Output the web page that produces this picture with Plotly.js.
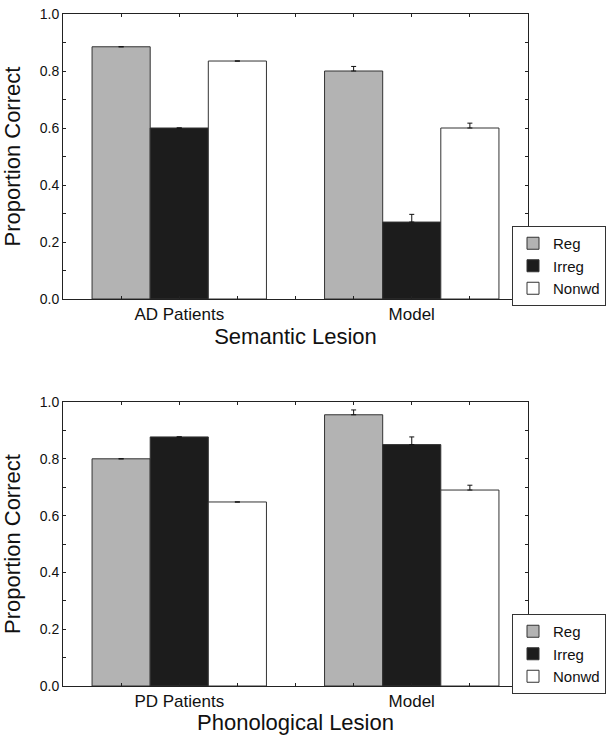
<!DOCTYPE html>
<html>
<head>
<meta charset="utf-8">
<script src="https://cdn.plot.ly/plotly-3.0.1.min.js"></script>
<style>html,body{margin:0;padding:0;background:#fff;}#chart{width:609px;height:735px;}</style>
</head>
<body>
<div id="chart"></div>
<script>
// ---- Data ----
const seriesNames = ['Reg', 'Irreg', 'Nonwd'];
const seriesColors = ['#b3b3b3', '#1c1c1c', '#ffffff'];

// Top panel: Semantic Lesion
const groupsTop = ['AD Patients', 'Model'];
const regTop    = [0.885, 0.80];
const irregTop  = [0.60, 0.27];
const nonwdTop  = [0.835, 0.60];
const regTopErr   = [0, 0.016];
const irregTopErr = [0, 0.027];
const nonwdTopErr = [0, 0.017];

// Bottom panel: Phonological Lesion
const groupsBot = ['PD Patients', 'Model'];
const regBot    = [0.80, 0.955];
const irregBot  = [0.877, 0.85];
const nonwdBot  = [0.648, 0.69];
const regBotErr   = [0, 0.017];
const irregBotErr = [0, 0.027];
const nonwdBotErr = [0, 0.017];

const yTickVals = [0, 0.1, 0.2, 0.3, 0.4, 0.5, 0.6, 0.7, 0.8, 0.9, 1.0];
const yTickText = ['0.0', '', '0.2', '', '0.4', '', '0.6', '', '0.8', '', '1.0'];

// ---- Build ----
const FONT = 'Liberation Sans, Arial, Helvetica, sans-serif';
const nSeries = seriesNames.length;
const slotsPerGroup = nSeries + 1;

function pos(gi, si) { return gi * slotsPerGroup + si + 1; }

function makeTraces(groups, values, errs, xa, ya, legendId) {
  return values.map((vals, si) => ({
    type: 'bar',
    name: seriesNames[si],
    x: groups.map((g, gi) => pos(gi, si)),
    y: vals,
    width: 1,
    xaxis: xa, yaxis: ya,
    legend: legendId,
    marker: { color: seriesColors[si], line: { color: '#333', width: 1 } },
    error_y: { type: 'data', symmetric: false, array: errs[si], arrayminus: groups.map(() => 0),
               color: '#111', thickness: 1, width: 2.5 },
    hoverinfo: 'skip'
  }));
}

const traces = [].concat(
  makeTraces(groupsTop, [regTop, irregTop, nonwdTop], [regTopErr, irregTopErr, nonwdTopErr], 'x', 'y', 'legend'),
  makeTraces(groupsBot, [regBot, irregBot, nonwdBot], [regBotErr, irregBotErr, nonwdBotErr], 'x2', 'y2', 'legend2')
);

function xTicks(groups) {
  const vals = [], text = [];
  const total = groups.length * slotsPerGroup;
  for (let i = 1; i < total; i++) {
    vals.push(i);
    const gi = Math.floor(i / slotsPerGroup);
    const center = pos(gi, Math.floor((nSeries - 1) / 2));
    text.push(i === center ? groups[gi] : '');
  }
  return { vals, text, total };
}

const tTop = xTicks(groupsTop), tBot = xTicks(groupsBot);

function xaxis(t, title, anchor) {
  return {
    domain: [63 / 609, 528 / 609], anchor: anchor,
    range: [0, t.total], tickmode: 'array', tickvals: t.vals, ticktext: t.text,
    ticks: 'inside', ticklen: 3, tickcolor: '#222', showline: true, linecolor: '#222', linewidth: 1,
    mirror: 'ticks', showgrid: false, zeroline: false, fixedrange: true,
    tickfont: { family: FONT, size: 17, color: '#111' },
    title: { text: title, font: { family: FONT, size: 22, color: '#111' }, standoff: 4 }
  };
}
function yaxis(domain, anchor) {
  return {
    domain: domain, anchor: anchor, range: [0, 1.0],
    tickmode: 'array', tickvals: yTickVals, ticktext: yTickText,
    ticks: 'inside', ticklen: 3, tickcolor: '#222', showline: true, linecolor: '#222', linewidth: 1,
    mirror: 'ticks', showgrid: false, zeroline: false, fixedrange: true,
    tickfont: { family: FONT, size: 14, color: '#111' },
    title: { text: 'Proportion Correct', font: { family: FONT, size: 22, color: '#111' } }
  };
}

function legend(yTop) {
  return {
    x: 512 / 609, xanchor: 'left', y: yTop, yanchor: 'top',
    bgcolor: '#fff', bordercolor: '#333', borderwidth: 1,
    font: { family: FONT, size: 15, color: '#111' },
    tracegroupgap: 0, itemwidth: 30, traceorder: 'normal'
  };
}

const layout = {
  width: 609, height: 735,
  margin: { l: 0, r: 0, t: 0, b: 0 },
  paper_bgcolor: '#fff', plot_bgcolor: '#fff',
  barmode: 'overlay',
  showlegend: true,
  font: { family: FONT, color: '#111' },
  xaxis: xaxis(tTop, 'Semantic Lesion', 'y'),
  yaxis: yaxis([1 - 299 / 735, 1 - 14 / 735], 'x'),
  xaxis2: xaxis(tBot, 'Phonological Lesion', 'y2'),
  yaxis2: yaxis([1 - 686 / 735, 1 - 402 / 735], 'x2'),
  legend: legend(1 - 226 / 735),
  legend2: legend(1 - 614 / 735)
};

Plotly.newPlot('chart', traces, layout, { staticPlot: true, displayModeBar: false });
</script>
</body>
</html>
